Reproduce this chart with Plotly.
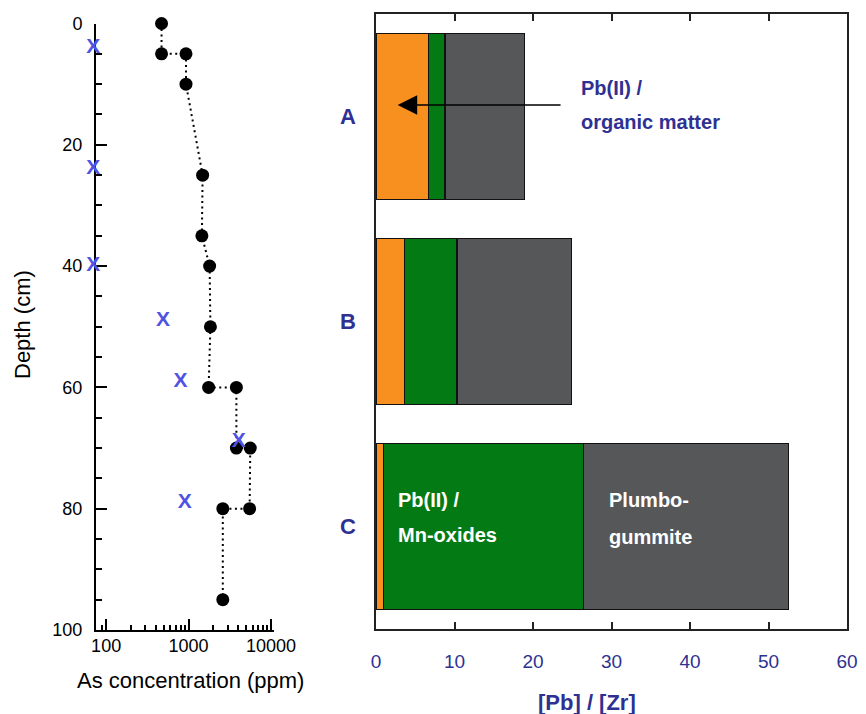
import plotly.graph_objects as go

# ---------------- data: left panel (As profile) ----------------
as_depth = [0, 5, 5, 10, 25, 35, 40, 50, 60, 60, 70, 70, 80, 80, 95]
as_conc = [470, 470, 930, 930, 1480, 1450, 1800, 1840, 1750, 3800, 3800, 5600, 5500, 2600, 2600]

x_depth = [4, 24, 40, 49, 59, 69, 79]
x_conc = [70, 70, 70, 490, 800, 4050, 900]

depth_ticks = [0, 20, 40, 60, 80, 100]
conc_ticks = [100, 1000, 10000]
conc_minor = [90, 200, 300, 400, 500, 600, 700, 800, 900,
              2000, 3000, 4000, 5000, 6000, 7000, 8000, 9000]

# ---------------- data: right panel (Pb speciation) ----------------
samples = ["A", "B", "C"]
pb_organic = [6.7, 3.6, 0.93]
pb_mnox = [2.1, 6.7, 25.5]
plumbogummite = [10.1, 14.6, 26.1]
pb_ticks = [0, 10, 20, 30, 40, 50, 60]

# page has an 8px body margin: figure is 8px smaller so the page is 866x714
OFF = 8
W, H = 866 - OFF, 714 - OFF
FONT = "Liberation Sans, Arial, Helvetica, sans-serif"
NAVY = "#2e3192"
ORANGE = "#f7901e"
GREEN = "#047a14"
GREY = "#555759"
BLUE_X = "#5252e2"

def px_x(p):
    return (p - OFF) / W

def px_y(p):
    return 1 - (p - OFF) / H

# left-panel geometry (page pixels) and log range
L0, L1 = 96.0, 273.5
LOG0, LOG1 = 1.877, 4.03
ppd = (L1 - L0) / (LOG1 - LOG0)          # pixels per decade
LOG0_EXT = 1.70                          # extended range for markers sitting on the axis
L0_EXT = L0 - (LOG0 - LOG0_EXT) * ppd

fig = go.Figure()

# Left panel
fig.add_trace(go.Scatter(
    x=as_conc, y=as_depth, mode="lines+markers",
    line=dict(color="black", width=2, dash="2px,3.5px"),
    marker=dict(color="black", size=13),
    xaxis="x", yaxis="y", showlegend=False, cliponaxis=False,
))
fig.add_trace(go.Scatter(
    x=x_conc, y=x_depth, mode="text", text=["X"] * len(x_conc),
    textposition="middle center",
    textfont=dict(family=FONT, size=21, color=BLUE_X, weight="bold"),
    xaxis="x3", yaxis="y3", showlegend=False, cliponaxis=False,
))

# Right panel
for vals, col, name in [(pb_organic, ORANGE, "Pb(II) / organic matter"),
                        (pb_mnox, GREEN, "Pb(II) / Mn-oxides"),
                        (plumbogummite, GREY, "Plumbogummite")]:
    fig.add_trace(go.Bar(
        y=samples, x=vals, orientation="h", name=name,
        marker=dict(color=col, line=dict(color="#111111", width=1.5)),
        xaxis="x2", yaxis="y2", showlegend=False,
    ))

LEFT_Y_DOMAIN = [px_y(630), px_y(23.5)]

fig.update_layout(
    width=W, height=H,
    margin=dict(l=0, r=0, t=0, b=0, autoexpand=False),
    paper_bgcolor="white", plot_bgcolor="rgba(0,0,0,0)",
    barmode="stack", bargap=0.19,
    font=dict(family=FONT, color="black"),
    xaxis=dict(
        domain=[px_x(L0), px_x(L1)], anchor="y", type="log",
        range=[LOG0, LOG1], automargin=False,
        tickmode="array", tickvals=conc_ticks, ticktext=["100", "1000", "10000"],
        ticks="inside", ticklen=11, tickwidth=1.5, tickcolor="black",
        minor=dict(tickmode="array", tickvals=conc_minor, ticks="inside",
                   ticklen=5, tickwidth=1.5, tickcolor="black"),
        showline=True, linecolor="black", linewidth=2,
        showgrid=False, zeroline=False,
        tickfont=dict(size=18, color="black"), ticklabelstandoff=-2,
    ),
    yaxis=dict(
        domain=LEFT_Y_DOMAIN, anchor="x",
        range=[100, 0], automargin=False,
        tickmode="array", tickvals=depth_ticks,
        ticks="inside", ticklen=11, tickwidth=1.5, tickcolor="black",
        minor=dict(dtick=5, ticks="inside", ticklen=6, tickwidth=1.5, tickcolor="black"),
        showline=True, linecolor="black", linewidth=2,
        showgrid=False, zeroline=False,
        tickfont=dict(size=18, color="black"), ticklabelstandoff=8,
    ),
    # same scale as xaxis/yaxis, slightly wider, hidden: carries the markers on the axis
    xaxis3=dict(domain=[px_x(L0_EXT), px_x(L1)], anchor="y3", type="log",
                range=[LOG0_EXT, LOG1], visible=False, automargin=False),
    yaxis3=dict(domain=LEFT_Y_DOMAIN, anchor="x3", range=[100, 0],
                visible=False, automargin=False),
    xaxis2=dict(
        domain=[px_x(376), px_x(847)], anchor="y2", automargin=False,
        range=[0, 60], tickmode="array", tickvals=pb_ticks,
        ticks="inside", ticklen=7, tickwidth=1.5, tickcolor="#222222",
        showline=True, linecolor="#222222", linewidth=1.5, mirror="ticks",
        showgrid=False, zeroline=False,
        tickfont=dict(size=19, color=NAVY), ticklabelstandoff=14,
    ),
    yaxis2=dict(
        domain=[px_y(629), px_y(14)], anchor="x2", automargin=False,
        type="category", categoryorder="array", categoryarray=samples,
        range=[2.5, -0.5],
        ticks="", showline=True, linecolor="#222222", linewidth=1.5, mirror=True,
        showgrid=False, zeroline=False,
        tickfont=dict(size=22, color=NAVY, weight="bold"), ticklabelstandoff=14,
    ),
)

ann = []
# axis titles
ann.append(dict(text="Depth (cm)", x=px_x(22), y=px_y(325), xref="paper", yref="paper",
                textangle=-90, showarrow=False, font=dict(size=22, color="black"),
                xanchor="center", yanchor="middle"))
ann.append(dict(text="As concentration (ppm)", x=px_x(190), y=px_y(680), xref="paper", yref="paper",
                showarrow=False, font=dict(size=22, color="black"),
                xanchor="center", yanchor="middle"))
ann.append(dict(text="[Pb] / [Zr]", x=px_x(587), y=px_y(702), xref="paper", yref="paper",
                showarrow=False, font=dict(size=22, color=NAVY, weight="bold"),
                xanchor="center", yanchor="middle"))

# in-chart labels
def lab(text, xdata, ypx, color):
    return dict(text=text, x=xdata, y=px_y(ypx), xref="x2", yref="paper",
                showarrow=False, font=dict(size=20, color=color, weight="bold"),
                xanchor="left", yanchor="middle")

ann.append(lab("Pb(II) /", 25.8, 88, NAVY))
ann.append(lab("organic matter", 25.8, 122, NAVY))
ann.append(lab("Pb(II) /", 2.5, 500, "white"))
ann.append(lab("Mn-oxides", 2.5, 535, "white"))
ann.append(lab("Plumbo-", 29.4, 500, "white"))
ann.append(lab("gummite", 29.4, 537, "white"))

# arrow
ann.append(dict(text="", x=2.76, y=px_y(105), xref="x2", yref="paper",
                ax=23.7, ay=0, axref="x2", ayref="pixel",
                showarrow=True, arrowhead=2, arrowsize=2.6, arrowwidth=1.5,
                arrowcolor="black", standoff=0))

fig.update_layout(annotations=ann)

fig.write_html("out.html")
